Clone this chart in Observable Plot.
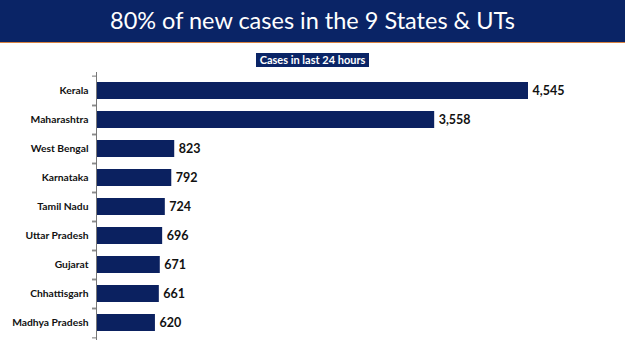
<!DOCTYPE html>
<html>
<head>
<meta charset="utf-8">
<script src="https://cdn.jsdelivr.net/npm/d3@7"></script>
<script src="https://cdn.jsdelivr.net/npm/@observablehq/plot@0.6"></script>
<style>
  html, body { margin: 0; padding: 0; background: #fff; }
  #wrap { position: relative; width: 625px; height: 351px; overflow: hidden; font-family: Lato, "Open Sans", sans-serif; }
  #header { height: 42px; background: #0a2466; border-bottom: 1.5px solid #d9823f; color: #fff;
            font-size: 23.5px; line-height: 41px; text-align: center; box-sizing: content-box; }
  #sub { position: absolute; top: 48px; left: 0; width: 625px; text-align: center; z-index: 2; }
  #sub span { display: inline-block; background: #0a2466; color: #fff; font-weight: bold; font-size: 11px;
              line-height: 14px; padding: 0 4px; }
  #chart { position: absolute; top: 43px; left: 0; }
</style>
</head>
<body>
<div id="wrap">
  <div id="header">80% of new cases in the 9 States &amp; UTs</div>
  <div id="sub"><span>Cases in last 24 hours</span></div>
  <div id="chart"></div>
</div>
<script>
const states = ["Kerala", "Maharashtra", "West Bengal", "Karnataka", "Tamil Nadu", "Uttar Pradesh", "Gujarat", "Chhattisgarh", "Madhya Pradesh"];
const cases = [4545, 3558, 823, 792, 724, 696, 671, 661, 620];

const data = states.map((s, i) => ({state: s, cases: cases[i]}));

const H = 308, mTop = 29, mBottom = 11;
const step = (H - mTop - mBottom) / states.length;

const chart = Plot.plot({
  width: 625,
  height: H,
  marginLeft: 96,
  marginRight: 97,
  marginTop: mTop,
  marginBottom: mBottom,
  style: {fontFamily: "Lato, 'Open Sans', sans-serif", background: "transparent"},
  x: {domain: [0, d3.max(cases)], axis: null},
  y: {domain: states, paddingInner: 0.43, paddingOuter: 0.215, label: null},
  marks: [
    Plot.barX(data, {x: "cases", y: "state", fill: "#0b2160"}),
    Plot.text(data, {x: "cases", y: "state", text: d => d3.format(",")(d.cases), textAnchor: "start", dx: 4,
      fontWeight: "bold", fontSize: 12.5, fill: "#111"}),
    Plot.ruleX([0], {stroke: "#777", strokeWidth: 1}),
    Plot.axisY({tickSize: 0, tickPadding: 8, fontWeight: "bold", fontSize: 10.3, color: "#111", label: null}),
    Plot.axisY({tickSize: 4, tickFormat: () => "", dy: -step / 2, stroke: "#777", label: null}),
    Plot.axisY({tickSize: 4, tickFormat: () => "", dy: step / 2, stroke: "#777", label: null})
  ]
});
document.getElementById("chart").appendChild(chart);
</script>
</body>
</html>
